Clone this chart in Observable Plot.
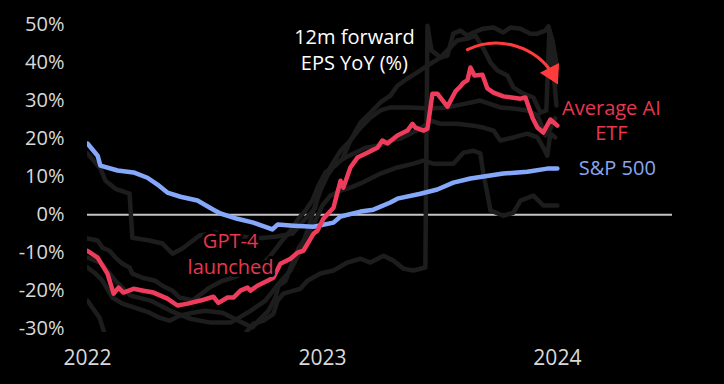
<!DOCTYPE html>
<html><head><meta charset="utf-8">
<script src="https://cdn.jsdelivr.net/npm/d3@7"></script>
<script src="https://cdn.jsdelivr.net/npm/@observablehq/plot@0.6"></script>
<style>
html,body{margin:0;padding:0;background:#000;}
#chart{width:724px;height:384px;overflow:hidden;}
</style></head><body><div id="chart"></div>
<script>
// x = decimal year, y = 12m forward EPS YoY (%)
const years = [2022, 2023, 2024];
const yTicks = [-30, -20, -10, 0, 10, 20, 30, 40, 50];

const spx = [[2022.000,18.7],[2022.043,15.5],[2022.055,12.9],[2022.128,11.6],[2022.196,11.1],[2022.255,9.7],[2022.298,7.9],[2022.340,5.8],[2022.396,4.7],[2022.468,3.7],[2022.536,1.3],[2022.566,0.3],[2022.638,-1.1],[2022.706,-2.1],[2022.757,-3.2],[2022.787,-3.9],[2022.809,-2.6],[2022.877,-2.9],[2022.962,-3.2],[2023.047,-2.1],[2023.077,-0.5],[2023.162,0.8],[2023.217,1.3],[2023.289,3.2],[2023.319,4.2],[2023.417,5.5],[2023.489,6.6],[2023.557,8.4],[2023.630,9.5],[2023.770,10.8],[2023.872,11.3],[2023.957,12.1],[2024.000,12.1]];

const aiAvg = [[2022.000,-9.5],[2022.043,-11.3],[2022.085,-15.5],[2022.111,-20.8],[2022.132,-19.2],[2022.153,-20.5],[2022.196,-19.5],[2022.238,-20.0],[2022.281,-20.5],[2022.311,-21.3],[2022.340,-22.1],[2022.383,-23.9],[2022.426,-23.4],[2022.481,-22.6],[2022.536,-21.6],[2022.557,-23.2],[2022.596,-21.8],[2022.621,-21.8],[2022.651,-20.0],[2022.681,-19.2],[2022.694,-20.0],[2022.723,-18.7],[2022.766,-17.4],[2022.791,-16.6],[2022.821,-12.9],[2022.864,-11.6],[2022.894,-10.0],[2022.919,-9.5],[2022.962,-5.0],[2022.979,-4.2],[2023.004,-1.1],[2023.047,1.8],[2023.077,8.9],[2023.089,7.1],[2023.119,12.4],[2023.149,15.0],[2023.191,16.3],[2023.234,17.6],[2023.255,19.5],[2023.277,18.7],[2023.319,20.8],[2023.362,22.1],[2023.383,23.9],[2023.396,22.9],[2023.430,22.1],[2023.447,22.6],[2023.468,31.8],[2023.489,31.8],[2023.532,28.4],[2023.566,32.4],[2023.587,33.7],[2023.600,34.7],[2023.617,35.3],[2023.630,38.7],[2023.647,36.6],[2023.681,36.8],[2023.702,33.2],[2023.728,32.1],[2023.770,31.1],[2023.843,30.5],[2023.864,30.8],[2023.894,25.5],[2023.915,22.9],[2023.940,21.6],[2023.970,25.0],[2024.000,23.4]];

// individual AI ETFs (dim lines)
const etf1 = [[2022.000,16.1],[2022.055,12.1],[2022.077,8.9],[2022.119,6.8],[2022.179,5.5],[2022.191,-6.1],[2022.264,-6.8],[2022.319,-7.6],[2022.362,-10.3],[2022.404,-8.9],[2022.477,-5.5],[2022.545,-4.7],[2022.630,-5.5],[2022.715,-6.3],[2022.800,-5.8],[2022.872,-5.0],[2022.928,-1.1],[2022.970,1.8],[2022.983,7.6],[2023.013,11.1],[2023.055,12.9],[2023.085,14.7],[2023.119,19.5],[2023.162,24.2],[2023.204,26.8],[2023.247,29.5],[2023.289,31.3],[2023.319,33.9],[2023.362,35.8],[2023.404,37.4],[2023.447,39.2],[2023.502,41.3],[2023.532,41.8],[2023.557,47.6],[2023.587,48.4],[2023.617,47.1],[2023.643,47.9],[2023.685,48.9],[2023.728,49.2],[2023.770,47.9],[2023.800,49.2],[2023.843,48.9],[2023.885,47.6],[2023.915,47.6],[2023.949,48.4],[2023.962,49.5],[2023.979,45.8],[2024.000,38.4]];
const etf2 = [[2022.000,-22.6],[2022.021,-24.5],[2022.051,-27.1],[2022.072,-31.1],[2022.098,-35.3],[2022.630,-35.3],[2022.681,-30.5],[2022.706,-28.7],[2022.749,-27.9],[2022.791,-26.1],[2022.809,-22.6],[2022.834,-20.8],[2022.877,-20.0],[2022.906,-19.5],[2022.936,-17.4],[2022.991,-15.5],[2023.047,-14.7],[2023.106,-12.6],[2023.162,-11.6],[2023.204,-12.6],[2023.260,-10.8],[2023.302,-12.1],[2023.345,-14.2],[2023.387,-14.7],[2023.438,-13.9],[2023.447,49.7],[2023.464,43.2],[2023.502,41.3],[2023.532,43.2],[2023.574,45.8],[2023.617,46.3],[2023.651,47.1],[2023.685,43.7],[2023.715,40.0],[2023.745,37.9],[2023.787,36.6],[2023.813,33.4],[2023.855,31.8],[2023.898,30.8],[2023.928,26.8],[2023.953,27.4],[2023.966,48.4],[2023.983,37.9],[2023.996,28.7]];
const etf3 = [[2022.000,-6.3],[2022.043,-6.8],[2022.064,-8.7],[2022.094,-9.5],[2022.119,-11.3],[2022.149,-12.9],[2022.179,-13.9],[2022.191,-15.5],[2022.234,-16.6],[2022.289,-17.4],[2022.319,-18.7],[2022.362,-20.0],[2022.391,-21.8],[2022.447,-22.6],[2022.519,-19.2],[2022.574,-17.4],[2022.617,-16.6],[2022.672,-15.3],[2022.728,-14.2],[2022.779,-10.8],[2022.821,-7.4],[2022.864,-4.2],[2022.898,-1.1],[2022.928,1.1],[2022.957,3.7],[2022.983,7.6],[2023.013,10.3],[2023.077,16.8],[2023.119,19.5],[2023.162,22.9],[2023.204,25.5],[2023.247,27.4],[2023.289,28.2],[2023.374,28.2],[2023.460,27.9],[2023.532,28.2],[2023.609,29.2],[2023.672,30.0],[2023.757,28.2],[2023.813,27.9],[2023.872,27.4],[2023.915,26.1],[2023.949,20.8],[2023.970,22.6],[2023.991,25.3]];
const etf4 = [[2022.000,-13.9],[2022.034,-15.5],[2022.064,-17.4],[2022.106,-21.8],[2022.149,-23.4],[2022.204,-24.5],[2022.264,-25.8],[2022.306,-27.1],[2022.349,-27.9],[2022.391,-26.6],[2022.447,-25.8],[2022.502,-25.3],[2022.574,-25.8],[2022.643,-27.9],[2022.702,-29.7],[2022.728,-27.9],[2022.770,-25.3],[2022.800,-21.8],[2022.813,-18.7],[2022.843,-17.4],[2022.872,-12.6],[2022.898,-8.9],[2022.928,-6.1],[2022.970,-1.6],[2023.000,2.4],[2023.034,5.0],[2023.077,6.3],[2023.119,7.1],[2023.162,8.2],[2023.247,10.8],[2023.319,12.4],[2023.387,13.4],[2023.430,14.2],[2023.472,13.4],[2023.557,13.4],[2023.600,16.3],[2023.643,16.8],[2023.672,16.1],[2023.685,10.8],[2023.702,5.5],[2023.715,1.1],[2023.770,-0.3],[2023.813,0.5],[2023.843,3.7],[2023.898,5.0],[2023.940,2.4],[2024.000,2.4]];
const etf5 = [[2022.000,-11.3],[2022.055,-12.6],[2022.119,-17.4],[2022.183,-21.3],[2022.268,-22.6],[2022.353,-25.3],[2022.438,-27.4],[2022.523,-28.4],[2022.609,-28.4],[2022.694,-25.3],[2022.757,-22.6],[2022.813,-18.2],[2022.864,-14.7],[2022.906,-9.5],[2022.936,-4.2],[2022.962,1.1],[2022.991,6.3],[2023.021,10.3],[2023.055,13.4],[2023.098,15.0],[2023.140,16.3],[2023.183,17.6],[2023.247,18.2],[2023.289,19.5],[2023.332,20.0],[2023.374,21.3],[2023.417,22.6],[2023.460,24.7],[2023.502,23.9],[2023.574,23.9],[2023.643,23.4],[2023.685,22.9],[2023.728,22.1],[2023.757,19.5],[2023.813,20.3],[2023.872,21.3],[2023.915,20.3],[2023.940,17.6],[2023.957,15.5],[2023.970,21.3],[2023.991,20.3]];

const etfs = [etf1, etf2, etf3, etf4, etf5];
const etfRows = etfs.flatMap((s, i) => s.map(([t, v]) => ({id: i, t, v})));

const FONT = "'Open Sans', 'Liberation Sans', sans-serif";
const RED = "#f03c5c", BLUE = "#86a8fb", GRAY = "#1d1d1d";
const halo = {stroke: "#000", strokeWidth: 6};

const chart = Plot.plot({
  width: 724, height: 384,
  marginLeft: 87, marginRight: 52, marginTop: 5, marginBottom: 52,
  style: {background: "#000", color: "#d9d9d9", fontFamily: FONT, fontSize: "20px", overflow: "visible"},
  x: {domain: [2022, 2024.49], label: null},
  y: {domain: [-31, 55], label: null},
  marks: [
    Plot.axisY({ticks: yTicks, tickFormat: d => d + "%", tickSize: 0, tickPadding: 23, fontSize: 20, fill: "#d9d9d9"}),
    Plot.axisX({ticks: years, tickFormat: d => String(d), tickSize: 0, tickPadding: 18, fontSize: 21, fill: "#d9d9d9"}),
    Plot.ruleY([0], {stroke: "#c4c4c4", strokeWidth: 2}),
    Plot.line(etfRows, {x: "t", y: "v", z: "id", stroke: GRAY, strokeWidth: 4.5, clip: true}),
    Plot.line(spx, {x: d => d[0], y: d => d[1], stroke: BLUE, strokeWidth: 4.5, clip: true}),
    Plot.line(aiAvg, {x: d => d[0], y: d => d[1], stroke: RED, strokeWidth: 4.5, clip: true}),
    Plot.text(["12m forward"], {x: 2023.136, y: 46.6, text: d => d, fill: "#ffffff", fontSize: 20, ...halo}),
    Plot.text(["EPS YoY (%)"], {x: 2023.136, y: 39.6, text: d => d, fill: "#ffffff", fontSize: 20, ...halo}),
    Plot.text(["GPT-4"], {x: 2022.609, y: -7.1, text: d => d, fill: "#e8364f", fontSize: 20, ...halo}),
    Plot.text(["launched"], {x: 2022.609, y: -13.9, text: d => d, fill: "#e8364f", fontSize: 20, ...halo}),
    Plot.text(["Average AI"], {x: 2024.23, y: 27.9, text: d => d, fill: "#e8364f", fontSize: 20}),
    Plot.text(["ETF"], {x: 2024.23, y: 21.3, text: d => d, fill: "#e8364f", fontSize: 20}),
    Plot.text(["S&P 500"], {x: 2024.255, y: 12.1, text: d => d, fill: "#8aa6ee", fontSize: 20}),
    Plot.arrow([0], {x1: 2023.617, y1: 43.4, x2: 2023.985, y2: 36.6, bend: 42, stroke: "#ff3b3b", strokeWidth: 3, headLength: 0}),
    Plot.dot([0], {x: 2023.991, y: 35.8, symbol: "triangle", r: 8, fill: "#ff3b3b", rotate: 153, dx: -3, dy: -5})
  ]
});
document.getElementById("chart").appendChild(chart);
</script>
</body></html>
